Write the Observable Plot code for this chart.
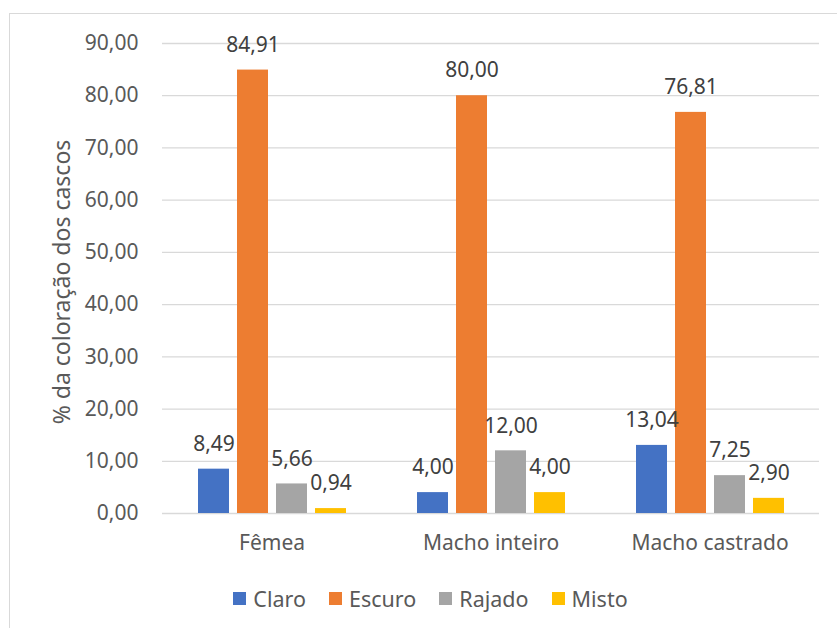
<!DOCTYPE html>
<html>
<head>
<meta charset="utf-8">
<script src="https://cdn.jsdelivr.net/npm/d3@7"></script>
<script src="https://cdn.jsdelivr.net/npm/@observablehq/plot@0.6"></script>
<style>
  html, body { margin: 0; padding: 0; background: #fff; overflow: hidden; }
  body { width: 837px; height: 628px; position: relative; font-family: "Noto Sans", sans-serif; }
  #frame { position: absolute; left: 9px; top: 13px; width: 900px; height: 700px; border: 1px solid #d9d9d9; box-sizing: border-box; }
  #chart { position: absolute; left: 0; top: 0; }
  #ylabel { position: absolute; left: 61px; top: 282px; transform: translate(-50%, -50%) rotate(-90deg); white-space: nowrap; font-size: 23px; color: #595959; }
  #legend { position: absolute; left: 0; top: 584px; width: 837px; display: flex; justify-content: center; align-items: center; gap: 23px; font-size: 21.5px; color: #595959; padding-left: 24px; box-sizing: border-box; }
  #legend .item { display: flex; align-items: center; gap: 7px; }
  #legend .sw { width: 13px; height: 13px; display: inline-block; }
</style>
</head>
<body>
<div id="frame"></div>
<div id="chart"></div>
<div id="ylabel"></div>
<div id="legend"></div>
<script>
const groups = ["Fêmea", "Macho inteiro", "Macho castrado"];
const series = ["Claro", "Escuro", "Rajado", "Misto"];
const colors = ["#4472C4", "#ED7D31", "#A5A5A5", "#FFC000"];
const claro = [8.49, 4.00, 13.04];
const escuro = [84.91, 80.00, 76.81];
const rajado = [5.66, 12.00, 7.25];
const misto = [0.94, 4.00, 2.90];
const yTicks = [0, 10, 20, 30, 40, 50, 60, 70, 80, 90];
const yLabel = "% da coloração dos cascos";

const valuesBySeries = [claro, escuro, rajado, misto];
const data = [];
groups.forEach((g, gi) => {
  series.forEach((s, si) => {
    data.push({group: g, serie: s, value: valuesBySeries[si][gi]});
  });
});

const fmt = d => d.toFixed(2).replace(".", ",");

const chart = Plot.plot({
  width: 837,
  height: 575,
  marginLeft: 162,
  marginRight: 18,
  marginTop: 43,
  marginBottom: 62,
  style: {fontFamily: "Noto Sans, sans-serif", background: "transparent"},
  facet: {marginTop: 0, marginBottom: 0, marginLeft: 0, marginRight: 0},
  fx: {domain: groups, paddingInner: 0, paddingOuter: 0, label: null},
  x: {domain: series, paddingInner: 0.217, paddingOuter: 0.874, axis: null},
  y: {domain: [0, 90], label: null},
  color: {domain: series, range: colors},
  marks: [
    Plot.gridY(yTicks, {stroke: "#d9d9d9", strokeOpacity: 1, strokeWidth: 1.3}),
    Plot.axisY(yTicks, {tickSize: 0, tickPadding: 24, tickFormat: fmt, fontSize: 21, fill: "#595959", label: null}),
    Plot.axisFx({anchor: "bottom", tickSize: 0, tickPadding: 22, fontSize: 21, fill: "#595959", label: null}),
    Plot.barY(data, {fx: "group", x: "serie", y: "value", fill: "serie"}),
    Plot.text(data, {fx: "group", x: "serie", y: "value", text: d => fmt(d.value), dy: -25, fontSize: 21, fill: "#404040"})
  ]
});
document.getElementById("chart").appendChild(chart);
document.getElementById("ylabel").textContent = yLabel;

const legend = document.getElementById("legend");
series.forEach((s, i) => {
  const item = document.createElement("div");
  item.className = "item";
  const sw = document.createElement("span");
  sw.className = "sw";
  sw.style.background = colors[i];
  const t = document.createElement("span");
  t.textContent = s;
  item.appendChild(sw);
  item.appendChild(t);
  legend.appendChild(item);
});
</script>
</body>
</html>
